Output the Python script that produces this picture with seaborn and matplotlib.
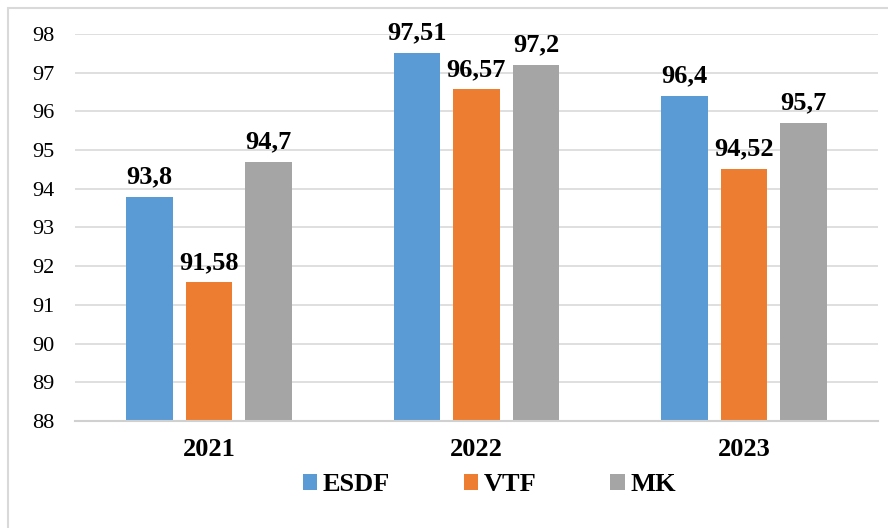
import pandas as pd
import matplotlib.pyplot as plt
import seaborn as sns
from matplotlib.patches import Rectangle

# Data
years = ['2021', '2022', '2023']
esdf = [93.8, 97.51, 96.4]
vtf = [91.58, 96.57, 94.52]
mk = [94.7, 97.2, 95.7]
series = ['ESDF', 'VTF', 'MK']
colors = ['#5B9BD5', '#ED7D31', '#A5A5A5']

df = pd.DataFrame({'Year': years * 3,
                   'Method': ['ESDF'] * 3 + ['VTF'] * 3 + ['MK'] * 3,
                   'Value': esdf + vtf + mk})

sns.set_style('white')
plt.rcParams['font.family'] = ['Liberation Serif', 'DejaVu Serif']
plt.rcParams['text.color'] = 'black'
plt.rcParams['xtick.color'] = 'black'
plt.rcParams['ytick.color'] = 'black'

fig = plt.figure(figsize=(8.88, 5.28), dpi=100)
ax = fig.add_axes([0.0845, 0.2027, 0.904, 0.7329])

sns.barplot(data=df, x='Year', y='Value', hue='Method', hue_order=series,
            palette=colors, width=0.667, gap=0.216, ax=ax, legend=True,
            saturation=1, edgecolor='none')

ax.set_ylim(88, 98)
ax.set_xlim(-0.5, 2.5)
ax.set_yticks(range(88, 99))
ax.yaxis.grid(True, color='#D9D9D9', linewidth=1.2)
ax.set_axisbelow(True)
for s in ['top', 'right', 'left']:
    ax.spines[s].set_visible(False)
ax.spines['bottom'].set_color('#D0D0D0')
ax.spines['bottom'].set_linewidth(1.5)
ax.tick_params(axis='y', labelsize=16, length=0, pad=15)
ax.tick_params(axis='x', labelsize=19, length=0, pad=12)
for t in ax.get_xticklabels():
    t.set_fontweight('bold')
ax.set_xlabel('')
ax.set_ylabel('')

# Value labels with comma decimals
for cont, vals in zip(ax.containers, [esdf, vtf, mk]):
    ax.bar_label(cont, labels=[str(v).replace('.', ',') for v in vals],
                 padding=6, fontsize=19, fontweight='bold', color='black')

ax.legend(loc='center', bbox_to_anchor=(0.516, -0.165), ncol=3, frameon=False,
          prop={'size': 19, 'weight': 'bold'}, handlelength=0.55, handleheight=0.55,
          handletextpad=0.2, columnspacing=2.8)

# Chart area border
fig.patches.append(Rectangle((8 / 888, -0.1), 1.2, 1 - 8 / 528 + 0.1,
                             transform=fig.transFigure, fill=False,
                             edgecolor='#D9D9D9', linewidth=1.5))

fig.savefig('out.png', dpi=100)
